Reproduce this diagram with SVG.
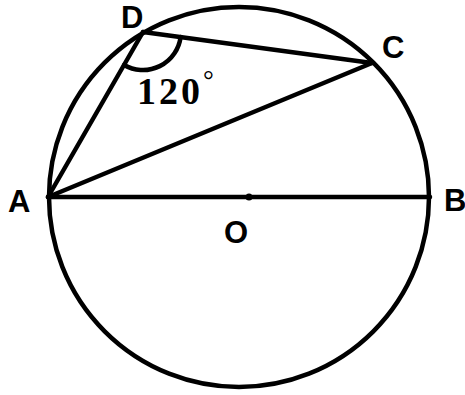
<svg xmlns="http://www.w3.org/2000/svg" width="465" height="395" viewBox="0 0 465 395">
<style>
.ln{stroke:#000;stroke-width:4.5;fill:none;stroke-linecap:round;stroke-linejoin:round}
.lb{font-family:"Liberation Sans",Arial,sans-serif;font-weight:bold;font-size:31px;fill:#000}
.num{font-family:"Liberation Serif","Times New Roman",serif;font-weight:bold;font-size:38px;fill:#000}
.deg{font-family:"Liberation Serif","Times New Roman",serif;font-size:27px;fill:#000}
</style>
<rect width="465" height="395" fill="#fff"/>
<g id="circle"><circle class="ln" cx="239" cy="197" r="190"/></g>
<g id="connectors">
<line class="ln" x1="48" y1="197" x2="430" y2="197"/>
<line class="ln" x1="48" y1="197" x2="143" y2="32"/>
<line class="ln" x1="48" y1="197" x2="372" y2="63"/>
<line class="ln" x1="143" y1="32" x2="372" y2="63"/>
<path class="ln" d="M124 65 A38 38 0 0 0 180.6 37.1"/>
</g>
<g id="O"><circle cx="249" cy="197" r="3.5" fill="#000"/><text class="lb" x="224" y="243">O</text></g>
<g id="A"><text class="lb" x="8" y="212">A</text></g>
<g id="B"><text class="lb" x="444" y="211">B</text></g>
<g id="C"><text class="lb" x="382" y="58">C</text></g>
<g id="D"><text class="lb" x="121" y="28">D</text></g>
<g id="angle"><text class="num" x="137" y="104" letter-spacing="3">120</text><text class="deg" x="203" y="89">°</text></g>
</svg>
